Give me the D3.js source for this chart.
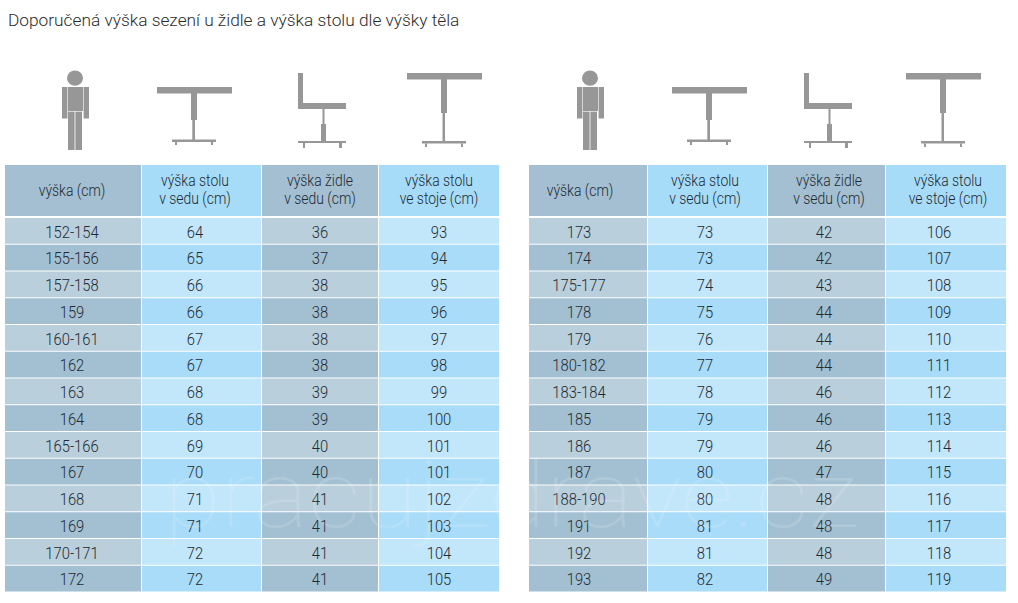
<!DOCTYPE html>
<html><head><meta charset="utf-8">
<script src="https://cdn.jsdelivr.net/npm/d3@7"></script>
<style>html,body{margin:0;padding:0;background:#fff;overflow:hidden}svg{display:block}</style>
</head><body><svg id="c" width="1018" height="603"></svg>
<script>
const title = "Doporučená výška sezení u židle a výška stolu dle výšky těla";
const headers = [["výška (cm)"],["výška stolu","v sedu (cm)"],["výška židle","v sedu (cm)"],["výška stolu","ve stoje (cm)"]];

const bodyLeft = ["152-154","155-156","157-158","159","160-161","162","163","164","165-166","167","168","169","170-171","172"];
const sitTableLeft = [64,65,66,66,67,67,68,68,69,70,71,71,72,72];
const chairLeft = [36,37,38,38,38,38,39,39,40,40,41,41,41,41];
const standTableLeft = [93,94,95,96,97,98,99,100,101,101,102,103,104,105];

const bodyRight = ["173","174","175-177","178","179","180-182","183-184","185","186","187","188-190","191","192","193"];
const sitTableRight = [73,73,74,75,76,77,78,79,79,80,80,81,81,82];
const chairRight = [42,42,43,44,44,44,46,46,46,47,48,48,48,49];
const standTableRight = [106,107,108,109,110,111,112,113,114,115,116,117,118,119];

const svg = d3.select("#c");
const FONT = "Roboto,'Liberation Sans',sans-serif";
const INK = "#1f2a32", ICON = "#979797";
const fills = {
  head:["#a3bfd1","#a6dcf8"],
  odd:["#b9cfdc","#c2e6fa"],
  even:["#a3c0d2","#a8dcf8"]
};

svg.append("text").attr("x",8).attr("y",26).attr("font-family",FONT)
  .attr("font-weight",300).attr("font-size",17.3).attr("fill","#2b2b2b").text(title);

const y = d3.scaleLinear().domain([0,14]).range([218,592.5]);

function table(cfg){
  const {edges,headX,valX,cols} = cfg;
  const g = svg.append("g");
  const x = d3.scaleOrdinal(d3.range(4),edges.slice(0,4));
  const w = i => edges[i+1]-edges[i]-1;
  const narrow = (px,py,sx)=>`translate(${px},${py}) scale(${sx},1)`;
  const h = g.append("g").selectAll("g").data(headers).join("g");
  h.append("rect").attr("x",(d,i)=>x(i)).attr("y",165).attr("width",(d,i)=>w(i)).attr("height",51)
    .attr("fill",(d,i)=>fills.head[i%2]);
  h.each(function(lines,i){
    d3.select(this).selectAll("text").data(lines).join("text")
      .attr("transform",(l,k)=>narrow(headX[i],lines.length===1?196:185.5+k*18,.82))
      .attr("text-anchor","middle")
      .attr("font-family",FONT).attr("font-weight",300).attr("font-size",17).attr("fill",INK).text(d=>d);
  });
  const rows = g.append("g").selectAll("g").data(d3.range(14)).join("g");
  rows.each(function(r){
    const s = d3.select(this);
    cols.forEach((col,i)=>{
      s.append("rect").attr("x",x(i)).attr("y",y(r)).attr("width",w(i)).attr("height",y(r+1)-y(r)-1)
        .attr("fill",(r%2?fills.even:fills.odd)[i%2]);
      s.append("text").attr("transform",narrow(valX[i],y(r)+19.5,.86)).attr("text-anchor","middle")
        .attr("font-family",FONT).attr("font-weight",300).attr("font-size",17.2).attr("fill",INK).text(col[r]);
    });
  });
}
table({edges:[5,142,262,379,500],headX:[72,195,320,439],valX:[72,195,320,439],
  cols:[bodyLeft,sitTableLeft,chairLeft,standTableLeft]});
table({edges:[529,648,768,886,1007],headX:[580,705,829,948],valX:[579,705,824,939],
  cols:[bodyRight,sitTableRight,chairRight,standTableRight]});

// faint watermark
svg.append("text").attr("x",164).attr("y",527).attr("font-family",FONT)
  .attr("font-weight",100).attr("font-size",92).attr("fill","#fff").attr("opacity",.14)
  .attr("textLength",694).attr("lengthAdjust","spacingAndGlyphs").text("pracujzdrave.cz");

// pictograms: [x0,y0,x1,y1] boxes relative to the page
function boxes(dx,list){
  svg.append("g").attr("transform",`translate(${dx},0)`).attr("fill",ICON)
    .selectAll("rect").data(list).join("rect")
    .attr("x",d=>d[0]).attr("y",d=>d[1]).attr("width",d=>d[2]-d[0]).attr("height",d=>d[3]-d[1]);
}
function person(dx){
  svg.append("ellipse").attr("cx",75+dx).attr("cy",78.2).attr("rx",8).attr("ry",7.6).attr("fill",ICON);
  boxes(dx,[[62,87,67.4,118.5],[68,87,83,111],[83.6,87,89,118.5],[68,111.6,74.6,150],[75.4,111.6,82,150]]);
}
const sitT=[[157,87,232,93.5],[191,93,197,120],[192.3,120,195,140],[172,139.5,216,142],[175,142,177,145],[211,142,213,145]];
const chair=[[298,73,303,108],[298,103,346,109],[322.5,109,324.5,124],[321,124,326,141.5],[298,141,346,143],[303,143,305,148],[339,143,342,148]];
const standT=[[407,73,482,79.5],[441,79,447,113],[442.5,113,445,141.5],[422,141,466,143.5],[425,143.5,427,147],[461,143.5,463,147]];
person(0);boxes(0,sitT);boxes(0,chair);boxes(0,standT);
person(515);boxes(515,sitT);boxes(506,chair);boxes(499,standT);
</script></body></html>
